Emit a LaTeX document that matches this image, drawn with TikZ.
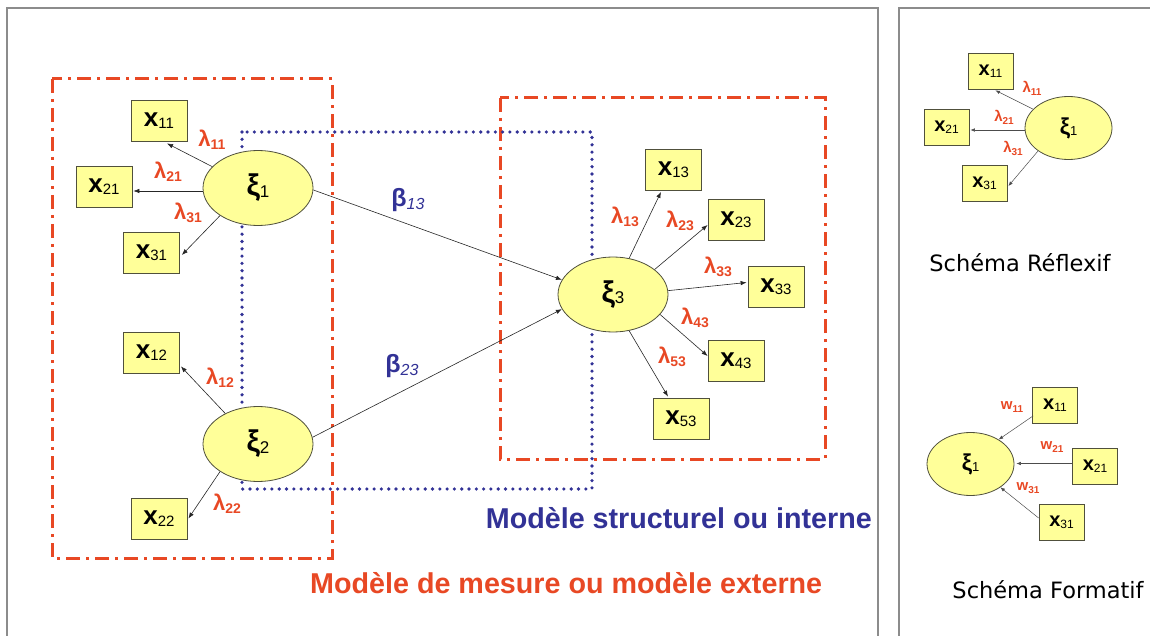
\documentclass[tikz,border=0pt]{standalone}
\usepackage{fontspec}
\setmainfont{Liberation Sans}
\newfontfamily\captionfont{DejaVu Sans}
\usetikzlibrary{arrows.meta,shapes.geometric,calc}

\definecolor{mred}{RGB}{232,72,36}
\definecolor{mblue}{RGB}{50,50,150}
\definecolor{lvfill}{RGB}{255,255,153}
\definecolor{framegray}{RGB}{140,140,140}
\definecolor{edgegray}{RGB}{80,80,60}

% manifest variable label: bold x with a subscript
\newcommand{\mvx}[3]{{\fontsize{#2}{#2}\selectfont\bfseries x}\raisebox{-0.22em}{\fontsize{#3}{#3}\selectfont #1}}
% latent variable label
\newcommand{\lvxi}[3]{{\fontsize{#2}{#2}\selectfont\bfseries ξ}\raisebox{-0.15em}{\fontsize{#3}{#3}\selectfont #1}}
% loading / weight label
\newcommand{\ldg}[4]{{\fontsize{#3}{#3}\selectfont\bfseries #1}\raisebox{-0.3em}{\fontsize{#4}{#4}\selectfont\bfseries #2}}

\begin{document}
\begin{tikzpicture}[x=1pt,y=-1pt,
  mv/.style={draw=edgegray, fill=lvfill, line width=0.8pt, inner sep=0pt,
             minimum width=56pt, minimum height=41pt},
  mvs/.style={mv, minimum width=45pt, minimum height=36pt},
  lv/.style={ellipse, draw=edgegray, fill=lvfill, line width=0.8pt, inner sep=0pt,
             minimum width=110pt, minimum height=75pt},
  lvs/.style={lv, minimum width=87pt, minimum height=63pt},
  link/.style={draw=black!85, line width=0.6pt, -{Latex[length=6pt,width=4.5pt]}},
  linksm/.style={draw=black!70, line width=0.5pt, -{Latex[length=4.5pt,width=3.5pt]}},
  lab/.style={text=mred, inner sep=0pt},
  measbox/.style={draw=mred, line width=3pt, dash pattern=on 14pt off 6pt on 3pt off 6pt},
  structbox/.style={draw=mblue, line width=3.6pt, line cap=round, dash pattern=on 0pt off 7.3pt},
  panel/.style={draw=framegray, line width=1.3pt}
]
\useasboundingbox (0,0) rectangle (1150,636);

% panel frames
\draw[panel] (7,636) -- (7,8) -- (878,8) -- (878,636);
\draw[panel] (899,636) -- (899,8) -- (1150,8);

% measurement model blocks and structural model block
\draw[measbox] (52,79) rectangle (332,558);
\draw[measbox] (500,98) rectangle (825,459);
\draw[structbox] (242,132) rectangle (592,489);

% latent variables
\node[lv] (xi1) at (258,188) {\lvxi{1}{30}{17}};
\node[lv] (xi2) at (258,444) {\lvxi{2}{30}{17}};
\node[lv] (xi3) at (613,294.5) {\lvxi{3}{30}{17}};

% manifest variables
\node[mv] (x11) at (159,120.5) {\mvx{11}{26}{15}};
\node[mv] (x21) at (104,187) {\mvx{21}{26}{15}};
\node[mv] (x31) at (151.5,253) {\mvx{31}{26}{15}};
\node[mv] (x12) at (151.5,352.5) {\mvx{12}{26}{15}};
\node[mv] (x22) at (159,518.5) {\mvx{22}{26}{15}};
\node[mv] (x13) at (673.5,170) {\mvx{13}{26}{15}};
\node[mv] (x23) at (736,220) {\mvx{23}{26}{15}};
\node[mv] (x33) at (776,286.5) {\mvx{33}{26}{15}};
\node[mv] (x43) at (736,361) {\mvx{43}{26}{15}};
\node[mv] (x53) at (681,418.5) {\mvx{53}{26}{15}};

% outer model links
\draw[link] (xi1.155) -- ($(x11.south)+(8,2)$);
\draw[link] ($(xi1.west)+(0,3)$) -- ($(xi1.west -| x21.east)+(1,3)$);
\draw[link] (xi1.216) -- ($(x31.east)+(2,2)$);
\draw[link] (xi2.137) -- ($(x12.south east)+(1,-7)$);
\draw[link] (xi2.216) -- ($(x22.east)+(1,0)$);
\draw[link] (xi3.66) -- ($(x13.south)+(-12.5,1)$);
\draw[link] (xi3.31) -- ($(x23.west)+(0,5)$);
\draw[link] (xi3.4) -- ($(x33.west)+(-1,-4)$);
\draw[link] (xi3.337) -- ($(x43.west)+(0,-5)$);
\draw[link] (xi3.294) -- ($(x53.north)+(-13,-1)$);

% inner model links
\draw[link] ($(xi1.east)+(0,2)$) -- (xi3.164);
\draw[link] (xi2.7) -- (xi3.196);

% loadings
\node[lab] (l11) at (212,140) {\ldg{λ}{11}{22}{14}};
\node[lab] (l21) at (168,172) {\ldg{λ}{21}{22}{14}};
\node[lab] (l31) at (188,213) {\ldg{λ}{31}{22}{14}};
\node[lab] (l12) at (220,378) {\ldg{λ}{12}{22}{14}};
\node[lab] (l22) at (227,504) {\ldg{λ}{22}{22}{14}};
\node[lab] (l13) at (625,217) {\ldg{λ}{13}{22}{14}};
\node[lab] (l23) at (680,221) {\ldg{λ}{23}{22}{14}};
\node[lab] (l33) at (718,267) {\ldg{λ}{33}{22}{14}};
\node[lab] (l43) at (695,318) {\ldg{λ}{43}{22}{14}};
\node[lab] (l53) at (672,357) {\ldg{λ}{53}{22}{14}};

% path coefficients
\node[text=mblue, inner sep=0pt] (b13) at (408,200)
  {{\fontsize{25}{25}\selectfont\bfseries β}\raisebox{-0.35em}{\fontsize{16}{16}\selectfont\itshape 13}};
\node[text=mblue, inner sep=0pt] (b23) at (402,366)
  {{\fontsize{25}{25}\selectfont\bfseries β}\raisebox{-0.35em}{\fontsize{16}{16}\selectfont\itshape 23}};

% block titles
\node[anchor=base east, inner sep=0pt, text=mblue, font=\fontsize{28.7}{28.7}\selectfont\bfseries]
  (tstruct) at (872,528) {Modèle structurel ou interne};
\node[anchor=base west, inner sep=0pt, text=mred, font=\fontsize{28.7}{28.7}\selectfont\bfseries]
  (tmeas) at (310,593) {Modèle de mesure ou modèle externe};

% reflective scheme
\node[lvs] (rxi) at (1068.5,128) {\lvxi{1}{23}{13}};
\node[mvs] (rx11) at (990.5,71) {\mvx{11}{20}{12}};
\node[mvs] (rx21) at (946.5,127.5) {\mvx{21}{20}{12}};
\node[mvs] (rx31) at (984.5,183.5) {\mvx{31}{20}{12}};
\draw[linksm] (rxi.152) -- ($(rx11.south)+(5,1)$);
\draw[linksm] ($(rxi.west)+(0,2)$) -- ($(rxi.west -| rx21.east)+(1,2)$);
\draw[linksm] (rxi.217) -- ($(rx31.east)+(1,2.5)$);
\node[lab] (rl11) at (1032,88) {\ldg{λ}{11}{15}{10}};
\node[lab] (rl21) at (1004,117) {\ldg{λ}{21}{15}{10}};
\node[lab] (rl31) at (1013,148) {\ldg{λ}{31}{15}{10}};
\node[anchor=base, inner sep=0pt, font=\captionfont\fontsize{22.5}{22.5}\selectfont]
  (trefl) at (1020,271) {Schéma Réflexif};

% formative scheme
\node[lvs] (fxi) at (970.5,464) {\lvxi{1}{23}{13}};
\node[mvs] (fx11) at (1055,405.5) {\mvx{11}{20}{12}};
\node[mvs] (fx21) at (1095,466.5) {\mvx{21}{20}{12}};
\node[mvs] (fx31) at (1061.5,522) {\mvx{31}{20}{12}};
\draw[linksm] ($(fx11.south west)+(1,-8)$) -- (fxi.41);
\draw[linksm] ($(fx21.west)+(0,-3)$) -- ($(fx21.west -| fxi.east)+(2,-3)$);
\draw[linksm] ($(fx31.west)+(0,-4)$) -- (fxi.322);
\node[lab] (w11) at (1012,407) {\ldg{w}{11}{15}{10}};
\node[lab] (w21) at (1052,447) {\ldg{w}{21}{15}{10}};
\node[lab] (w31) at (1028,488) {\ldg{w}{31}{15}{10}};
\node[anchor=base, inner sep=0pt, font=\captionfont\fontsize{22.5}{22.5}\selectfont]
  (tform) at (1048,598) {Schéma Formatif};
\end{tikzpicture}
\end{document}
